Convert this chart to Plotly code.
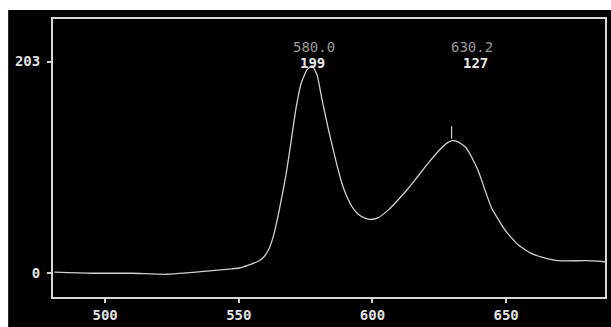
import plotly.graph_objects as go

# Spectrum data (wavelength nm, intensity)
wavelength = [481, 495, 510, 523, 538, 546.5, 550.2, 553.9, 557.7, 559.5, 561.4, 563,
              565.1, 567.7, 569.6, 571.4, 573.3, 575.5, 577.4, 579.3, 581.1, 583.7, 586.4,
              588.6, 590.5, 592.3, 594.5, 597, 599.5, 602, 606.1, 609.8, 613.6, 617,
              621, 625, 628, 629.6, 632, 634.8, 637, 639.6, 644.5, 649.7, 654.6, 659.4,
              664, 669.5, 679.5, 687]
intensity = [1, 0, 0, -1, 2, 4, 5, 8, 12, 16, 24, 36,
             60, 95, 127, 158, 182, 195, 199, 190, 167, 136, 107,
             86, 73, 64, 57, 53, 51.5, 53, 61, 71, 82, 93,
             106, 118, 125, 127, 126, 121, 112, 98, 63, 41, 27, 19,
             15, 12, 12, 11]

peak_wl_labels = ["580.0", "630.2"]
peak_val_labels = ["199", "127"]
peak_pos = [577.4, 629.6]
peak_val = [199, 127]

x_ticks = [500, 550, 600, 650]
y_ticks = [0, 203]
y_tick_text = ["0", "203"]

fig = go.Figure()
fig.add_trace(go.Scatter(x=wavelength, y=intensity, mode="lines",
                         line=dict(color="#d0d0d0", width=1.3, shape="spline", smoothing=0.5),
                         hoverinfo="skip", showlegend=False))

W, H = 611, 327
ml, mr, mt, mb = 53, 4, 19, 27
pw, ph = W - ml - mr, H - mt - mb

def px_x(p):
    return (p - ml) / pw

def px_y(p):
    return (H - mb - p) / ph

shapes = [
    # white strips at top and left (outside black screen area)
    dict(type="rect", xref="paper", yref="paper", x0=px_x(-5), x1=px_x(W + 5),
         y0=px_y(10), y1=px_y(-5), fillcolor="white", line_width=0, layer="above"),
    dict(type="rect", xref="paper", yref="paper", x0=px_x(-5), x1=px_x(8),
         y0=px_y(H + 5), y1=px_y(-5), fillcolor="white", line_width=0, layer="above"),
    # peak marker at second peak
    dict(type="line", xref="x", yref="y", x0=peak_pos[1], x1=peak_pos[1],
         y0=peak_val[1] + 2, y1=peak_val[1] + 14, line=dict(color="#d0d0d0", width=1.2)),
]

annotations = []
wl_shift = [2, 20]
val_shift = [0, 24]
for i in range(2):
    annotations.append(dict(x=peak_pos[i], xref="x", y=px_y(37), yref="paper",
                            text=peak_wl_labels[i], showarrow=False, xshift=wl_shift[i],
                            font=dict(family="DejaVu Sans Mono", size=14, color="#9a9a9a")))
    annotations.append(dict(x=peak_pos[i], xref="x", y=px_y(53), yref="paper",
                            text="<b>" + peak_val_labels[i] + "</b>", showarrow=False,
                            xshift=val_shift[i],
                            font=dict(family="DejaVu Sans Mono", size=14, color="#e8e8e8")))

tick_font = dict(family="DejaVu Sans Mono", size=14, color="#e0e0e0", weight="bold")

fig.update_layout(
    width=W, height=H,
    margin=dict(l=ml, r=mr, t=mt, b=mb, pad=0),
    paper_bgcolor="black", plot_bgcolor="black",
    shapes=shapes, annotations=annotations,
    xaxis=dict(range=[480.5, 687], tickvals=x_ticks, ticks="outside", ticklen=4,
               tickcolor="#d0d0d0", tickwidth=1.5,
               showgrid=False, zeroline=False, showline=True, mirror=True,
               linecolor="#d8d8d8", linewidth=2, tickfont=tick_font),
    yaxis=dict(range=[-22.8, 243.8], tickvals=y_ticks, ticktext=y_tick_text,
               ticks="outside", ticklen=4, tickcolor="#d0d0d0", tickwidth=1.5,
               ticklabelstandoff=4,
               showgrid=False, zeroline=False, showline=True, mirror=True,
               linecolor="#d8d8d8", linewidth=2, tickfont=tick_font),
)

fig.write_html("out.html")
